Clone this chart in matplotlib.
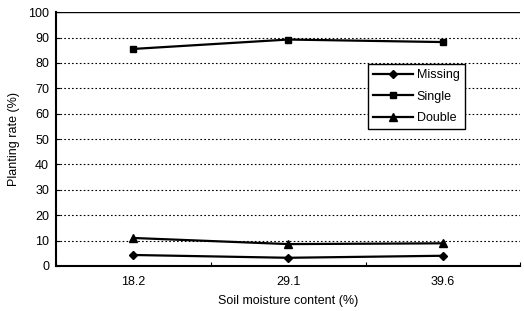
import matplotlib
matplotlib.use("Agg")
import matplotlib.pyplot as plt

categories = ["18.2", "29.1", "39.6"]
missing = [4.3, 3.2, 4.0]
single = [85.5, 89.2, 88.2]
double = [11.0, 8.6, 8.9]
yticks = [0, 10, 20, 30, 40, 50, 60, 70, 80, 90, 100]

plt.rcParams['font.family'] = ['Liberation Sans', 'DejaVu Sans']
fig = plt.figure(figsize=(5.24, 3.11), dpi=100)
ax = fig.add_axes([0.107, 0.145, 0.886, 0.816])

x = list(range(len(categories)))
ax.plot(x, missing, color='black', marker='D', markersize=4.5, lw=1.6, label='Missing')
ax.plot(x, single, color='black', marker='s', markersize=5, lw=1.6, label='Single')
ax.plot(x, double, color='black', marker='^', markersize=5.5, lw=1.6, label='Double')

ax.set_xlim(-0.5, len(categories) - 0.5)
ax.set_ylim(0, 100)
ax.set_yticks(yticks)
ax.set_xticks(x)
ax.set_xticklabels(categories)
ax.set_xticks([-0.5, 0.5, 1.5, 2.5], minor=True)
ax.tick_params(axis='x', which='major', length=0, labelsize=9, pad=7)
ax.tick_params(axis='x', which='minor', length=3, direction='in', width=0.8)
ax.tick_params(axis='y', length=3, direction='in', labelsize=9, pad=5, width=0.8)

for yv in yticks[1:-1]:
    ax.axhline(yv, color='black', lw=0.8, ls=(0, (1.5, 2)), zorder=0)
ax.axhline(100, color='black', lw=1.0, zorder=0)

ax.spines['top'].set_visible(False)
ax.spines['right'].set_visible(False)
ax.spines['left'].set_linewidth(1.5)
ax.spines['bottom'].set_linewidth(1.5)

ax.set_xlabel('Soil moisture content (%)', fontsize=9, labelpad=5)
ax.set_ylabel('Planting rate (%)', fontsize=9, labelpad=6)

leg = ax.legend(loc='upper left', bbox_to_anchor=(0.672, 0.795), frameon=True,
                fancybox=False, edgecolor='black', fontsize=9,
                handlelength=3.2, handletextpad=0.3, borderpad=0.4, labelspacing=0.75,
                borderaxespad=0)
leg.get_frame().set_linewidth(1.0)
leg.get_frame().set_alpha(1)

fig.savefig('out.png', dpi=100)
